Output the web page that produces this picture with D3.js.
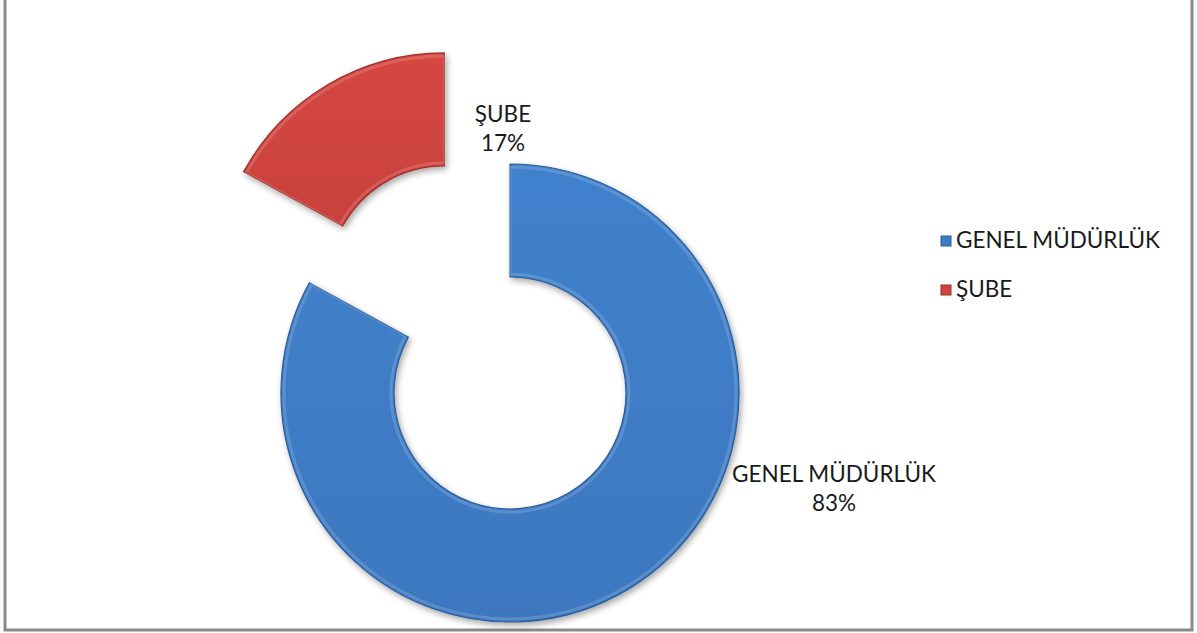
<!DOCTYPE html>
<html><head><meta charset="utf-8">
<script src="https://cdn.jsdelivr.net/npm/d3@7"></script>
<style>html,body{margin:0;padding:0;background:#fff;}svg{display:block;}</style>
</head><body>
<svg id="c" width="1197" height="633"></svg>
<script>
const categories = ["GENEL MÜDÜRLÜK", "ŞUBE"];
const values = [83, 17];
const colors = ["#3f7cc6", "#cf443f"];
const darkColors = ["#2b5c9c", "#9c2f2b"];
const exploded = [false, true];

const svg = d3.select("#c");
// frame
svg.append("rect").attr("x", 5).attr("y", -5).attr("width", 1187).attr("height", 635)
  .attr("fill", "#fff").attr("stroke", "#8a8a8a").attr("stroke-width", 3);

const defs = svg.append("defs");
const f = defs.append("filter").attr("id", "sh").attr("x", "-20%").attr("y", "-20%").attr("width", "140%").attr("height", "140%");
f.append("feGaussianBlur").attr("in", "SourceAlpha").attr("stdDeviation", 3).attr("result", "b");
f.append("feOffset").attr("in", "b").attr("dx", 2).attr("dy", 3).attr("result", "o");
f.append("feComponentTransfer").attr("in", "o").attr("result", "o2")
  .append("feFuncA").attr("type", "linear").attr("slope", 0.35);
const m = f.append("feMerge");
m.append("feMergeNode").attr("in", "o2");
m.append("feMergeNode").attr("in", "SourceGraphic");

colors.forEach((c, i) => {
  const g = defs.append("linearGradient").attr("id", "g" + i)
    .attr("x1", "0").attr("y1", "0").attr("x2", "0").attr("y2", "1");
  g.append("stop").attr("offset", "0%").attr("stop-color", d3.color(c).brighter(0.1));
  g.append("stop").attr("offset", "100%").attr("stop-color", d3.color(c).darker(0.1));
});

const cx = 510, cy = 393, R = 229, r = 116, explode = 129;
const pie = d3.pie().sort(null).value(d => d.v);
const arcs = pie(categories.map((k, i) => ({k, v: values[i], i})));
const arc = d3.arc().innerRadius(r).outerRadius(R);
const total = d3.sum(values);

const g = svg.append("g").attr("transform", `translate(${cx},${cy})`);
arcs.forEach(a => {
  const mid = (a.startAngle + a.endAngle) / 2;
  const off = exploded[a.data.i] ? explode : 0;
  const dx = Math.sin(mid) * off, dy = -Math.cos(mid) * off;
  const sg = g.append("g").attr("transform", `translate(${dx},${dy})`);
  sg.append("path").attr("d", arc(a)).attr("fill", `url(#g${a.data.i})`)
    .attr("stroke", darkColors[a.data.i]).attr("stroke-width", 1.2)
    .attr("stroke-linejoin", "round").attr("filter", "url(#sh)");
  sg.append("path").attr("d", d3.arc().innerRadius(r + 3).outerRadius(R - 3)(a))
    .attr("fill", "none").attr("stroke", "rgba(255,255,255,0.15)").attr("stroke-width", 3);
});

// data labels
const fmt = v => Math.round(v / total * 100) + "%";
const labelPos = [[834, 482], [503, 122]];
arcs.forEach(a => {
  const [lx, ly] = labelPos[a.data.i];
  const t = svg.append("text").attr("x", lx).attr("y", ly).attr("text-anchor", "middle")
    .attr("font-family", "Lato, 'Open Sans', sans-serif").attr("font-size", 22.5).attr("fill", "#1a1a1a");
  t.append("tspan").attr("x", lx).text(a.data.k);
  t.append("tspan").attr("x", lx).attr("dy", 29).text(fmt(a.data.v));
});

// legend
const lg = svg.append("g");
categories.forEach((k, i) => {
  const y = 248 + i * 49;
  lg.append("rect").attr("x", 941).attr("y", y - 12).attr("width", 10).attr("height", 10)
    .attr("fill", colors[i]).attr("stroke", darkColors[i]).attr("stroke-width", 1);
  lg.append("text").attr("x", 956).attr("y", y).attr("font-family", "Lato, 'Open Sans', sans-serif")
    .attr("font-size", 22.5).attr("fill", "#1a1a1a").text(k);
});
</script>
</body></html>
